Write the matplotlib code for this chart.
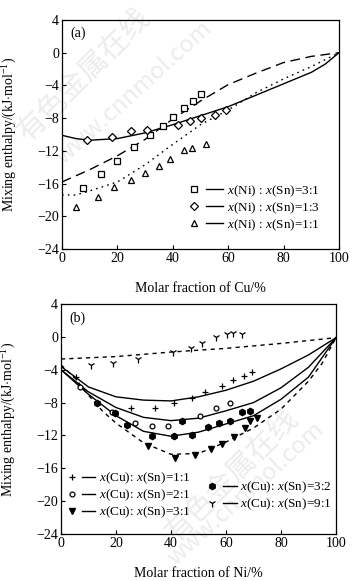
import matplotlib
matplotlib.use("Agg")
import matplotlib.pyplot as plt
from matplotlib.lines import Line2D
from matplotlib.legend_handler import HandlerTuple

plt.rcParams['font.family'] = ['Liberation Serif', 'DejaVu Serif']
plt.rcParams['mathtext.fontset'] = 'custom'
plt.rcParams['mathtext.rm'] = 'Liberation Serif'
plt.rcParams['mathtext.it'] = 'Liberation Serif:italic'

# ---------------- Panel (a): Ni-Sn-Cu, x = molar fraction of Cu ----------------
a_sq_x = [7.7, 14.0, 20.0, 26.0, 31.8, 36.3, 40.2, 44.2, 47.2, 50.2]
a_sq_y = [-16.5, -14.8, -13.2, -11.5, -10.1, -9.0, -7.8, -6.8, -5.9, -5.1]
a_di_x = [8.9, 18.2, 24.9, 30.8, 42.0, 46.2, 50.2, 55.2, 59.1]
a_di_y = [-10.7, -10.3, -9.6, -9.4, -8.8, -8.3, -8.0, -7.6, -7.0]
a_tr_x = [5.1, 12.9, 18.8, 24.9, 30.0, 34.9, 39.0, 44.0, 47.1, 52.0]
a_tr_y = [-18.9, -17.6, -16.4, -15.6, -14.7, -13.9, -13.0, -11.9, -11.7, -11.2]

a_cx = [0, 10, 20, 30, 40, 50, 60, 70, 80, 90, 100]
a_c31 = [-15.8, -14.3, -12.6, -10.6, -8.1, -5.9, -3.9, -2.5, -1.2, -0.45, 0.0]
a_c13x = [0, 5, 10, 20, 30, 40, 50, 60, 70, 80, 90, 95, 100]
a_c13 = [-10.1, -10.5, -10.7, -10.5, -9.8, -8.8, -7.7, -6.6, -5.2, -3.8, -2.4, -1.4, 0.0]
a_c11x = [0, 5, 10, 20, 30, 40, 50, 60, 70, 80, 90, 100]
a_c11 = [-17.4, -17.4, -16.9, -15.8, -13.7, -11.2, -8.8, -7.0, -4.9, -3.2, -1.7, 0.0]

a_labels = [r"$x$(Ni) : $x$(Sn)=3:1", r"$x$(Ni) : $x$(Sn)=1:3", r"$x$(Ni) : $x$(Sn)=1:1"]

# ---------------- Panel (b): Cu-Sn-Ni, x = molar fraction of Ni ----------------
b_p11_x = [5.5, 25.5, 34.2, 41.2, 47.5, 52.4, 58.4, 62.4, 66.5, 69.3]
b_p11_y = [-4.9, -8.6, -8.6, -8.1, -7.5, -6.7, -6.0, -5.3, -4.8, -4.3]
b_p21_x = [6.9, 18.7, 26.9, 33.2, 39.0, 50.4, 56.4, 61.5]
b_p21_y = [-6.1, -9.2, -10.5, -10.9, -10.8, -9.6, -8.6, -8.0]
b_p32_x = [13.0, 19.6, 23.9, 33.0, 41.2, 43.9, 47.5, 53.6, 57.6, 61.5, 65.7, 68.7]
b_p32_y = [-8.0, -9.3, -10.7, -12.1, -12.1, -10.3, -12.0, -11.0, -10.5, -10.2, -9.2, -9.0]
b_p31_x = [31.8, 41.5, 48.7, 54.6, 58.6, 62.8, 66.9, 68.7, 71.2]
b_p31_y = [-13.3, -14.8, -14.4, -13.7, -13.1, -12.2, -11.1, -10.3, -9.9]
b_p91_x = [10.9, 19.0, 28.1, 40.8, 47.3, 51.2, 56.4, 60.2, 62.7, 65.7]
b_p91_y = [-3.4, -3.2, -2.7, -1.8, -1.4, -0.7, 0.0, 0.3, 0.45, 0.3]

b_cx = [0, 10, 20, 30, 40, 50, 60, 70, 80, 90, 100]
b_c11 = [-3.6, -6.1, -7.3, -7.7, -7.8, -7.3, -6.5, -5.4, -3.9, -2.2, -0.1]
b_c21 = [-4.0, -6.7, -8.6, -9.8, -10.2, -9.9, -9.0, -8.0, -6.2, -3.7, -0.1]
b_c32 = [-4.0, -7.0, -9.6, -11.5, -12.1, -11.6, -10.6, -9.6, -7.6, -4.9, -0.1]
b_c31x = [0, 5, 10, 15, 20, 30, 40, 50, 60, 70, 80, 90, 95, 100]
b_c31 = [-3.4, -5.0, -7.1, -9.0, -10.5, -12.9, -14.3, -14.2, -12.8, -11.1, -8.8, -5.4, -3.2, -0.1]
b_c91x = [0, 20, 40, 60, 80, 100]
b_c91 = [-2.7, -2.4, -1.85, -1.4, -0.8, -0.1]

b_labels = [r"$x$(Cu): $x$(Sn)=1:1", r"$x$(Cu): $x$(Sn)=2:1", r"$x$(Cu): $x$(Sn)=3:1",
            r"$x$(Cu): $x$(Sn)=3:2", r"$x$(Cu): $x$(Sn)=9:1"]

yticks = [4, 0, -4, -8, -12, -16, -20, -24]
xticks = [0, 20, 40, 60, 80, 100]
ylabel = r"Mixing enthalpy/(kJ$\cdot$mol$^{-1}$)"

fig = plt.figure(figsize=(3.52, 5.81), dpi=100)

# watermark (drawn behind the axes)
wm = dict(color='#ececec', zorder=-5, ha='center', va='center',
          family=['Noto Sans CJK SC', 'DejaVu Sans'])
fig.text(0.24, 0.87, "有色金属在线", rotation=45, fontsize=21, **wm)
fig.text(0.38, 0.84, "www.cnnmol.com", rotation=42, fontsize=17, **wm)
fig.text(0.66, 0.18, "有色金属在线", rotation=45, fontsize=21, **wm)
fig.text(0.70, 0.15, "www.cnnmol.com", rotation=42, fontsize=17, **wm)

axA = fig.add_axes([62/352, 1-249/581, 277/352, 229/581])
axB = fig.add_axes([61/352, 1-534/581, 275/352, 230/581])
for ax in (axA, axB):
    ax.patch.set_alpha(0)

lw = 1.0
k = 'black'
# panel a curves
axA.plot(a_cx, a_c31, color=k, lw=lw, ls=(0, (7, 4)))
axA.plot(a_c13x, a_c13, color=k, lw=lw, ls='-')
axA.plot(a_c11x, a_c11, color=k, lw=lw, ls=(0, (1.2, 3)))
ms_a = dict(color=k, ls='none', mfc='white', mew=0.9)
h1, = axA.plot(a_sq_x, a_sq_y, marker='s', ms=4.2, **ms_a)
h2, = axA.plot(a_di_x, a_di_y, marker='D', ms=3.8, **ms_a)
h3, = axA.plot(a_tr_x, a_tr_y, marker='^', ms=4.5, **ms_a)

# panel b curves
axB.plot(b_cx, b_c11, color=k, lw=lw, ls='-')
axB.plot(b_cx, b_c21, color=k, lw=lw, ls='-')
axB.plot(b_cx, b_c32, color=k, lw=lw, ls='-')
axB.plot(b_c31x, b_c31, color=k, lw=lw, ls=(0, (3, 3)))
axB.plot(b_c91x, b_c91, color=k, lw=lw, ls=(0, (3, 3)))
g1, = axB.plot(b_p11_x, b_p11_y, marker='+', ms=5, mew=0.9, color=k, ls='none')
g2, = axB.plot(b_p21_x, b_p21_y, marker='o', ms=3.5, mfc='white', mew=0.9, color=k, ls='none')
g3, = axB.plot(b_p31_x, b_p31_y, marker='v', ms=4.5, color=k, ls='none')
g4, = axB.plot(b_p32_x, b_p32_y, marker='h', ms=4.5, color=k, ls='none')
g5, = axB.plot(b_p91_x, b_p91_y, marker='1', ms=5.5, mew=0.9, color=k, ls='none')


def leg(ax, hs, labels, loc, anchor, hl):
    pairs = [(h, Line2D([], [], color=k, lw=1.0, ls='-')) for h in hs]
    lg = ax.legend(pairs, labels, loc=loc, bbox_to_anchor=anchor,
                   handler_map={tuple: HandlerTuple(ndivide=None, pad=0.3)},
                   frameon=False, fontsize=9.5, handlelength=hl, handletextpad=0.25,
                   labelspacing=0.12, borderaxespad=0, borderpad=0.1)
    return lg

lgA = leg(axA, [h1, h2, h3], a_labels, 'lower right', (0.935, 0.065), 2.9)
lgB1 = leg(axB, [g1, g2, g3], b_labels[:3], 'lower left', (0.01, 0.055), 2.3)
axB.add_artist(lgB1)
lgB2 = leg(axB, [g4, g5], b_labels[3:], 'lower left', (0.52, 0.09), 2.4)

for ax, lab, xl in ((axA, "(a)", "Molar fraction of Cu/%"), (axB, "(b)", "Molar fraction of Ni/%")):
    ax.set_xlim(0, 100)
    ax.set_ylim(-24, 4)
    ax.set_xticks(xticks)
    ax.set_yticks(yticks)
    ax.tick_params(direction='in', length=3, width=0.8, labelsize=10, pad=2)
    for s in ax.spines.values():
        s.set_linewidth(0.9)
    ax.set_xlabel(xl, fontsize=10)
    ax.set_ylabel(ylabel, fontsize=10)
    ax.xaxis.set_label_coords(0.5, -0.145)
    ax.yaxis.set_label_coords(-0.155, 0.5)
    ax.text(0.03, 0.94, lab, transform=ax.transAxes, fontsize=10, va='center', ha='left')

fig.savefig("out.png", dpi=100)
